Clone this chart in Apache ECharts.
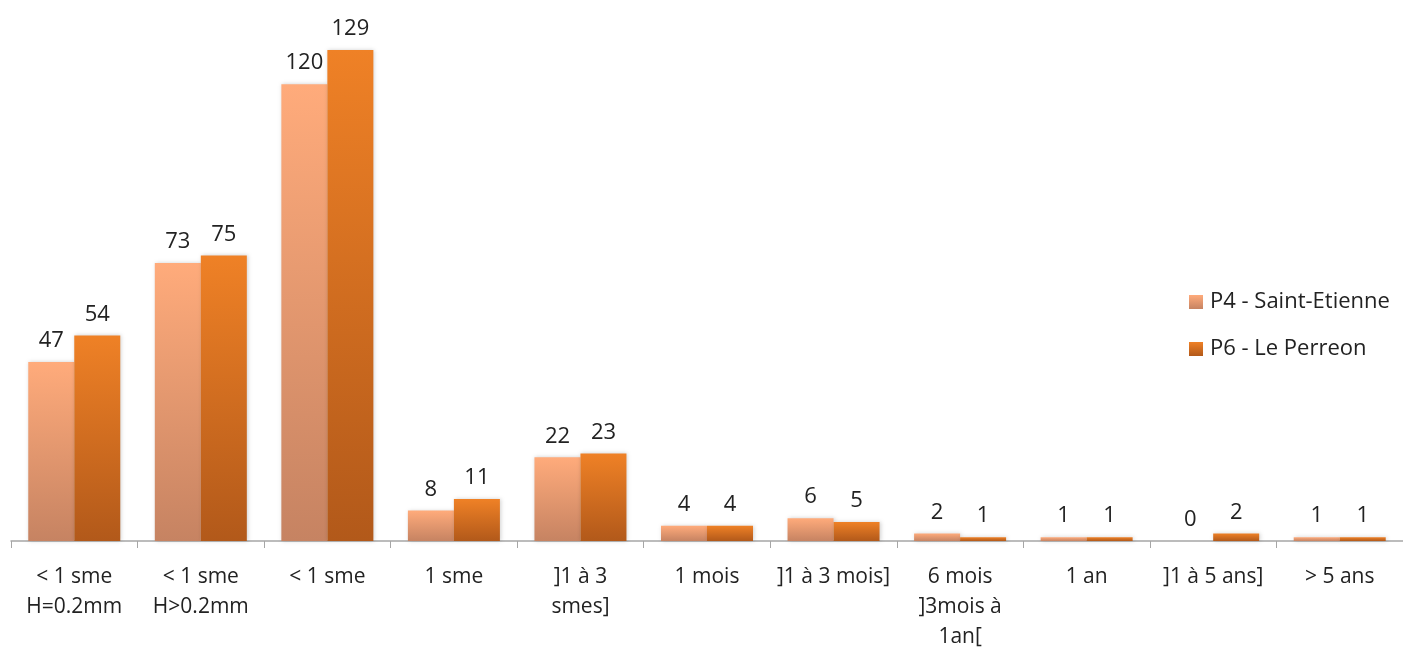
<!DOCTYPE html>
<html>
<head>
<meta charset="utf-8">
<script src="https://cdn.jsdelivr.net/npm/echarts@6/dist/echarts.min.js"></script>
<style>
  html, body { margin: 0; padding: 0; background: #ffffff; }
  #chart { width: 1403px; height: 653px; }
</style>
</head>
<body>
<div id="chart"></div>
<script>
// Durée d'exposition : nombre de cas par classe, pour deux sites
const categories = [
  '< 1 sme\nH=0.2mm',
  '< 1 sme\nH>0.2mm',
  '< 1 sme',
  '1 sme',
  ']1 à 3\nsmes]',
  '1 mois',
  ']1 à 3 mois]',
  '6 mois\n]3mois à\n1an[',
  '1 an',
  ']1 à 5 ans]',
  '> 5 ans'
];
const seriesNames = ['P4 - Saint-Etienne', 'P6 - Le Perreon'];
const saintEtienne = [47, 73, 120, 8, 22, 4, 6, 2, 1, 0, 1];
const lePerreon = [54, 75, 129, 11, 23, 4, 5, 1, 1, 2, 1];

const FONT = '"Open Sans", Lato, sans-serif';

function grad(top, bottom) {
  return new echarts.graphic.LinearGradient(0, 0, 0, 1, [
    { offset: 0, color: top },
    { offset: 1, color: bottom }
  ]);
}

const labelStyle = {
  show: true,
  position: 'top',
  distance: 10,
  fontFamily: FONT,
  fontSize: 22,
  color: '#222222'
};

const chart = echarts.init(document.getElementById('chart'));
chart.setOption({
  animation: false,
  backgroundColor: '#ffffff',
  grid: { left: 11, right: -2, top: 8, bottom: 112, containLabel: false },
  legend: {
    orient: 'vertical',
    left: 1184,
    top: 286,
    itemWidth: 14,
    itemHeight: 14,
    itemGap: 25,
    icon: 'rect',
    textStyle: { fontFamily: FONT, fontSize: 22, color: '#222222', padding: [0, 0, 0, 2] },
    data: seriesNames
  },
  xAxis: {
    type: 'category',
    data: categories,
    axisLine: { lineStyle: { color: '#a6a6a6', width: 1.5 } },
    axisTick: { show: true, length: 7, lineStyle: { color: '#a6a6a6' } },
    axisLabel: {
      interval: 0,
      margin: 21,
      fontFamily: FONT,
      fontSize: 21,
      lineHeight: 30,
      color: '#222222'
    }
  },
  yAxis: {
    type: 'value',
    min: 0,
    max: 140,
    interval: 20,
    show: false,
    splitLine: { show: false }
  },
  series: [
    {
      name: seriesNames[0],
      type: 'bar',
      data: saintEtienne,
      barWidth: 46,
      barGap: '0%',
      itemStyle: {
        color: grad('#ffab7b', '#c68362'),
        shadowColor: 'rgba(0,0,0,0.18)',
        shadowBlur: 4,
        shadowOffsetX: 1
      },
      label: labelStyle
    },
    {
      name: seriesNames[1],
      type: 'bar',
      data: lePerreon,
      barWidth: 46,
      barGap: '0%',
      itemStyle: {
        color: grad('#ef8126', '#b2591a'),
        shadowColor: 'rgba(0,0,0,0.18)',
        shadowBlur: 4,
        shadowOffsetX: 1
      },
      label: labelStyle
    }
  ]
});
</script>
</body>
</html>
